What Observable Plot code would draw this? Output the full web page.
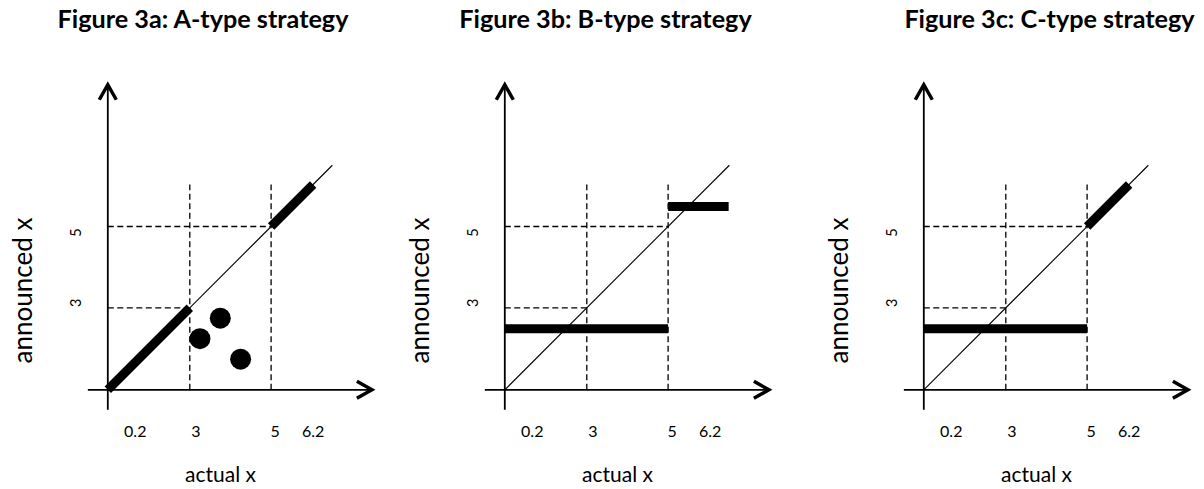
<!DOCTYPE html>
<html><head><meta charset="utf-8">
<script src="https://cdn.jsdelivr.net/npm/d3@7"></script>
<script src="https://cdn.jsdelivr.net/npm/@observablehq/plot@0.6"></script>
<style>
html,body{margin:0;padding:0;background:#fff;}
#wrap{display:flex;width:1204px;height:489px;overflow:hidden;}
#wrap svg{display:block;flex:none;}
</style></head><body><div id="wrap"></div>
<script>
// ---------- data ----------
const panelTitles = ["Figure 3a: A-type strategy", "Figure 3b: B-type strategy", "Figure 3c: C-type strategy"];
const xTickValues = [0.2, 3, 5, 6.2];
const xTickLabels = ["0.2", "3", "5", "6.2"];
const yTickValues = [3, 5];
const yTickLabels = ["3", "5"];
const xAxisTitle = "actual x";
const yAxisTitle = "announced x";
const scaleBreaks = [0, 3, 5, 6.2];          // schematic (piecewise) axis breakpoints
const guideValues = [3, 5];                   // dashed guide lines
const guideTop = 6.2;
const xAxisExtent = [-0.73, 7.88];
const yAxisExtent = [-0.73, 9.05];
const diagonalEnd = 6.75;
// thick strategy segments [x1, y1, x2, y2]
const strategyA = [[0, 0, 3, 3], [5, 5, 6.2, 6.2]];
const strategyB = [[0, 2.23, 5, 2.23], [5, 5.57, 6.73, 5.57]];
const strategyC = [[0, 2.23, 5, 2.23], [5, 5, 6.2, 6.2]];
const dotsAX = [3.25, 3.75, 4.25];
const dotsAY = [1.87, 2.62, 1.12];

// ---------- layout ----------
const panelWidths = [400, 400, 404];
const originX = [107.3, 104.3, 123.3];
const originY = 389.3;
const breakOffsets = [0, 82, 163.3, 205.3];
const titleCenterX = [202.5, 205, 249];
const xTickNudge = [22, 6, 4, 0];
const yTickNudge = [-5, 6];
const FONT = "Lato, 'Open Sans', sans-serif";

const chevronUp = {draw(ctx) { ctx.moveTo(-8.5, 15); ctx.lineTo(0, 0); ctx.lineTo(8.5, 15); }};
const chevronRight = {draw(ctx) { ctx.moveTo(-15, -8.5); ctx.lineTo(0, 0); ctx.lineTo(-15, 8.5); }};

function panel(i, segs, dots) {
  const ox = originX[i];
  const marks = [
    Plot.link(guideValues, {x1: d => d, x2: d => d, y1: () => 0, y2: () => guideTop,
      stroke: "black", strokeWidth: 1.3, strokeDasharray: "6,3.5"}),
    Plot.link(guideValues, {x1: () => 0, x2: d => d, y1: d => d, y2: d => d,
      stroke: "black", strokeWidth: 1.3, strokeDasharray: "6,3.5"}),
    Plot.link([xAxisExtent], {x1: d => d[0], x2: d => d[1], y1: () => 0, y2: () => 0, stroke: "black", strokeWidth: 1.8}),
    Plot.link([yAxisExtent], {y1: d => d[0], y2: d => d[1], x1: () => 0, x2: () => 0, stroke: "black", strokeWidth: 1.8}),
    Plot.dot([xAxisExtent[1]], {x: d => d, y: () => 0, symbol: chevronRight, fill: "none", stroke: "black", strokeWidth: 3.5, strokeLinejoin: "miter"}),
    Plot.dot([yAxisExtent[1]], {y: d => d, x: () => 0, symbol: chevronUp, fill: "none", stroke: "black", strokeWidth: 3.5, strokeLinejoin: "miter"}),
    Plot.link([diagonalEnd], {x1: () => 0, y1: () => 0, x2: d => d, y2: d => d, stroke: "black", strokeWidth: 1.1}),
    Plot.link(segs, {x1: d => d[0], y1: d => d[1], x2: d => d[2], y2: d => d[3], stroke: "black", strokeWidth: 9, strokeLinecap: "butt"}),
    Plot.text([panelTitles[i]], {frameAnchor: "top-left", dx: titleCenterX[i], dy: 27, text: d => d,
      textAnchor: "middle", lineAnchor: "bottom", fontWeight: "bold", fontSize: 25.2, fill: "black"}),
    Plot.text([yAxisTitle], {frameAnchor: "top-left", dx: ox - 84, dy: 290, text: d => d, rotate: -90,
      textAnchor: "middle", lineAnchor: "middle", fontSize: 26, fill: "black"}),
    Plot.text([xAxisTitle], {frameAnchor: "top-left", dx: ox + 112.7, dy: 475, text: d => d,
      textAnchor: "middle", lineAnchor: "middle", fontSize: 21, fill: "black"})
  ];
  xTickValues.forEach((v, j) => marks.push(Plot.text([v], {x: d => d, frameAnchor: "top", dy: 431.5, dx: xTickNudge[j],
    text: () => xTickLabels[j], textAnchor: "middle", lineAnchor: "middle", fontSize: 16, fill: "black"})));
  yTickValues.forEach((v, j) => marks.push(Plot.text([v], {y: d => d, frameAnchor: "left", dx: ox - 31, dy: yTickNudge[j],
    text: () => yTickLabels[j], rotate: -90, textAnchor: "middle", lineAnchor: "middle", fontSize: 14.5, fill: "black"})));
  if (dots) marks.push(Plot.dot(dots[0].map((x, k) => k), {x: k => dots[0][k], y: k => dots[1][k], r: 10.5, fill: "black"}));
  return Plot.plot({
    width: panelWidths[i], height: 489,
    marginTop: 0, marginRight: 0, marginBottom: 0, marginLeft: 0,
    x: {type: "linear", domain: scaleBreaks, range: breakOffsets.map(p => ox + p), axis: null},
    y: {type: "linear", domain: scaleBreaks, range: breakOffsets.map(p => originY - p), axis: null},
    style: {fontFamily: FONT, background: "white", overflow: "visible"},
    marks
  });
}

const wrap = document.getElementById("wrap");
wrap.append(panel(0, strategyA, [dotsAX, dotsAY]));
wrap.append(panel(1, strategyB, null));
wrap.append(panel(2, strategyC, null));
</script></body></html>
